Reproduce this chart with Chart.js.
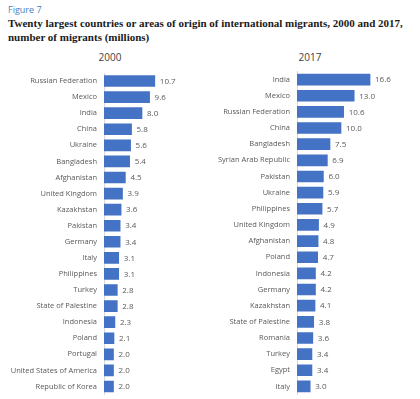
<!DOCTYPE html>
<html>
<head>
<meta charset="utf-8">
<script src="https://cdn.jsdelivr.net/npm/chart.js@4"></script>
<style>
  body { margin: 0; width: 420px; height: 399px; background: #fff; position: relative; overflow: hidden; }
  #fig { position: absolute; left: 8px; top: 3px; font: 9px "Open Sans", sans-serif; color: #4a7ebb; }
  #title { position: absolute; left: 8px; top: 16px; width: 412px; font: bold 11px "Liberation Serif", serif; line-height: 14px; color: #1a1a1a; }
  .year { position: absolute; top: 50px; font: 10px "Open Sans", sans-serif; color: #404040; text-align: center; width: 60px; }
  canvas { position: absolute; }
</style>
</head>
<body>
<div id="fig">Figure 7</div>
<div id="title">Twenty largest countries or areas of origin of international migrants, 2000 and 2017, number of migrants (millions)</div>
<div class="year" style="left:80px">2000</div>
<div class="year" style="left:280px">2017</div>
<div style="position:absolute;left:0;top:60px;width:210px;height:346px"><canvas id="chart2000"></canvas></div>
<div style="position:absolute;left:210px;top:60px;width:210px;height:346px"><canvas id="chart2017"></canvas></div>

<script>
// =====================================
// DATA
// =====================================

const countries2000 = [
    "Russian Federation", "Mexico", "India", "China", "Ukraine",
    "Bangladesh", "Afghanistan", "United Kingdom", "Kazakhstan", "Pakistan",
    "Germany", "Italy", "Philippines", "Turkey", "State of Palestine",
    "Indonesia", "Poland", "Portugal", "United States of America", "Republic of Korea"
];
const values2000 = [10.7, 9.6, 8.0, 5.8, 5.6, 5.4, 4.5, 3.9, 3.6, 3.4,
                    3.4, 3.1, 3.1, 2.8, 2.8, 2.3, 2.1, 2.0, 2.0, 2.0];

const countries2017 = [
    "India", "Mexico", "Russian Federation", "China", "Bangladesh",
    "Syrian Arab Republic", "Pakistan", "Ukraine", "Philippines", "United Kingdom",
    "Afghanistan", "Poland", "Indonesia", "Germany", "Kazakhstan",
    "State of Palestine", "Romania", "Turkey", "Egypt", "Italy"
];
const values2017 = [16.6, 13.0, 10.6, 10.0, 7.5, 6.9, 6.0, 5.9, 5.7, 4.9,
                    4.8, 4.7, 4.2, 4.2, 4.1, 3.8, 3.6, 3.4, 3.4, 3.0];

// =====================================
// VALUE LABELS
// =====================================

const valueLabels = {
    id: "valueLabels",
    afterDatasetsDraw(chart) {
        const ctx = chart.ctx;
        const meta = chart.getDatasetMeta(0);
        ctx.save();
        ctx.font = "8px 'Open Sans', sans-serif";
        ctx.fillStyle = "#595959";
        ctx.textBaseline = "middle";
        meta.data.forEach((bar, i) => {
            const v = chart.data.datasets[0].data[i];
            ctx.fillText(v.toFixed(1), bar.x + 5, bar.y + 0.5);
        });
        ctx.restore();
    }
};

// =====================================
// CHART
// =====================================

function makeChart(id, labels, values, opt) {
    return new Chart(document.getElementById(id), {
        type: "bar",
        data: {
            labels: labels,
            datasets: [{
                data: values,
                backgroundColor: "#4472c4",
                barThickness: 11
            }]
        },
        options: {
            indexAxis: "y",
            responsive: true,
            maintainAspectRatio: false,
            animation: false,
            layout: {
                padding: { top: opt.top, bottom: opt.bottom, right: opt.right, left: 0 }
            },
            plugins: {
                legend: { display: false },
                tooltip: { enabled: false }
            },
            scales: {
                x: {
                    display: false,
                    min: 0,
                    max: opt.max
                },
                y: {
                    afterFit(scale) { scale.width = opt.axisWidth; },
                    grid: { display: false, drawTicks: false },
                    border: { display: true, color: "#d9d9d9" },
                    ticks: {
                        color: "#595959",
                        font: { family: "'Open Sans', sans-serif", size: 7.5 },
                        padding: 7,
                        autoSkip: false
                    }
                }
            }
        },
        plugins: [valueLabels]
    });
}

makeChart("chart2000", countries2000, values2000,
    { top: 13, bottom: 5, right: 11, max: 20, axisWidth: 104 });

makeChart("chart2017", countries2017, values2017,
    { top: 4, bottom: 5, right: 13, max: 25, axisWidth: 87 });
</script>
</body>
</html>
